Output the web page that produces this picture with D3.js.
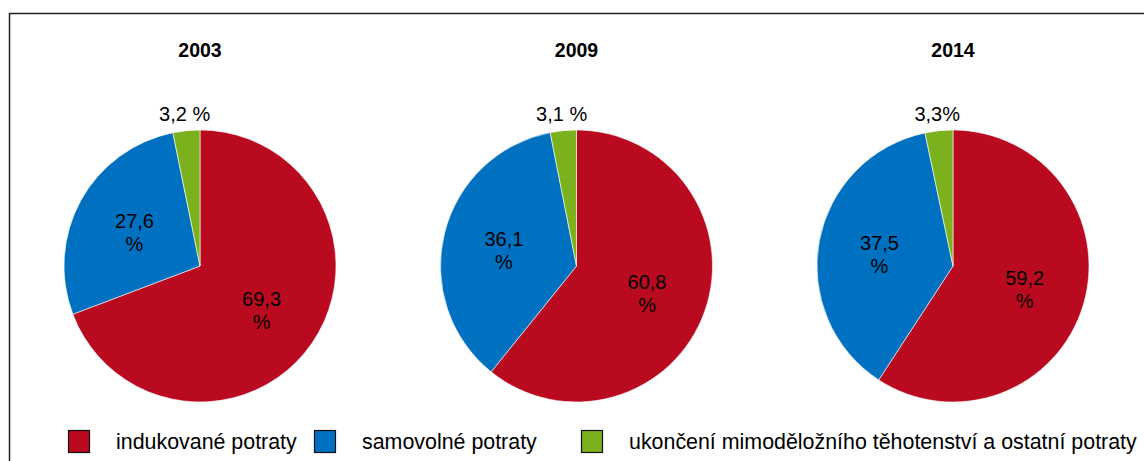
<!DOCTYPE html>
<html>
<head>
<meta charset="utf-8">
<script src="https://cdn.jsdelivr.net/npm/d3@7"></script>
<style>
  body { margin: 0; background: #fff; }
  svg { display: block; font-family: "Liberation Sans", Arial, sans-serif; }
</style>
</head>
<body>
<svg id="chart" width="1144" height="461"></svg>
<script>
const years = ["2003", "2009", "2014"]
const categories = ["indukované potraty", "samovolné potraty", "ukončení mimoděložního těhotenství a ostatní potraty"]
const values2003 = [69.3, 27.6, 3.2]
const values2009 = [60.8, 36.1, 3.1]
const values2014 = [59.2, 37.5, 3.3]
const labels2003 = ["69,3 %", "27,6 %", "3,2 %"]
const labels2009 = ["60,8 %", "36,1 %", "3,1 %"]
const labels2014 = ["59,2 %", "37,5 %", "3,3%"]
const colors = ["#BA0A1F", "#0070C0", "#7CB11E"]

const series = [values2003, values2009, values2014]
const labels = [labels2003, labels2009, labels2014]

let svg = d3.select("#chart")

// frame (runs off the right and bottom edge like the original)
svg.append("rect")
  .attr("x", 9.5).attr("y", 13.5)
  .attr("width", 1160).attr("height", 480)
  .attr("fill", "none")
  .attr("stroke", "#222")
  .attr("stroke-width", 1.5)

let radius = 136
let cy = 266
let x = d3.scalePoint().domain(years).range([200, 953])

let pie = d3.pie().sort(null).value(d => d)
let arc = d3.arc().innerRadius(0).outerRadius(radius)
let insideArc = d3.arc().innerRadius(radius * 0.55).outerRadius(radius * 0.55)
let outsideArc = d3.arc().innerRadius(radius + 17).outerRadius(radius + 17)

years.forEach(function (year, i) {
  let g = svg.append("g").attr("transform", `translate(${x(year)},${cy})`)

  svg.append("text")
    .attr("x", x(year)).attr("y", 57)
    .attr("text-anchor", "middle")
    .attr("font-size", 19.5)
    .attr("font-weight", "bold")
    .text(year)

  let arcs = pie(series[i])

  g.selectAll("path")
    .data(arcs)
    .enter()
    .append("path")
    .attr("d", arc)
    .attr("fill", (d, j) => colors[j])
    .attr("stroke", "#fff")
    .attr("stroke-width", 0.6)

  arcs.forEach(function (d, j) {
    let txt = labels[i][j]
    if (j < 2) {
      let c = insideArc.centroid(d)
      let parts = txt.split(" ")
      let t = g.append("text")
        .attr("text-anchor", "middle")
        .attr("font-size", 20)
        .attr("fill", "#000")
      t.append("tspan").attr("x", c[0]).attr("y", c[1] - 2).text(parts[0])
      t.append("tspan").attr("x", c[0]).attr("y", c[1] + 21).text(parts[1])
    } else {
      let c = outsideArc.centroid(d)
      g.append("text")
        .attr("x", c[0]).attr("y", c[1] + 7)
        .attr("text-anchor", "middle")
        .attr("font-size", 20)
        .attr("fill", "#000")
        .text(txt)
    }
  })
})

// legend
let legendX = [68, 314, 581]
let legend = svg.append("g")
categories.forEach(function (name, j) {
  legend.append("rect")
    .attr("x", legendX[j] + 0.5).attr("y", 430.5)
    .attr("width", 21).attr("height", 22)
    .attr("fill", colors[j])
    .attr("stroke", "#111")
    .attr("stroke-width", 1.2)
  legend.append("text")
    .attr("x", legendX[j] + 48).attr("y", 449)
    .attr("font-size", 21.4)
    .attr("fill", "#000")
    .text(name)
})
</script>
</body>
</html>
